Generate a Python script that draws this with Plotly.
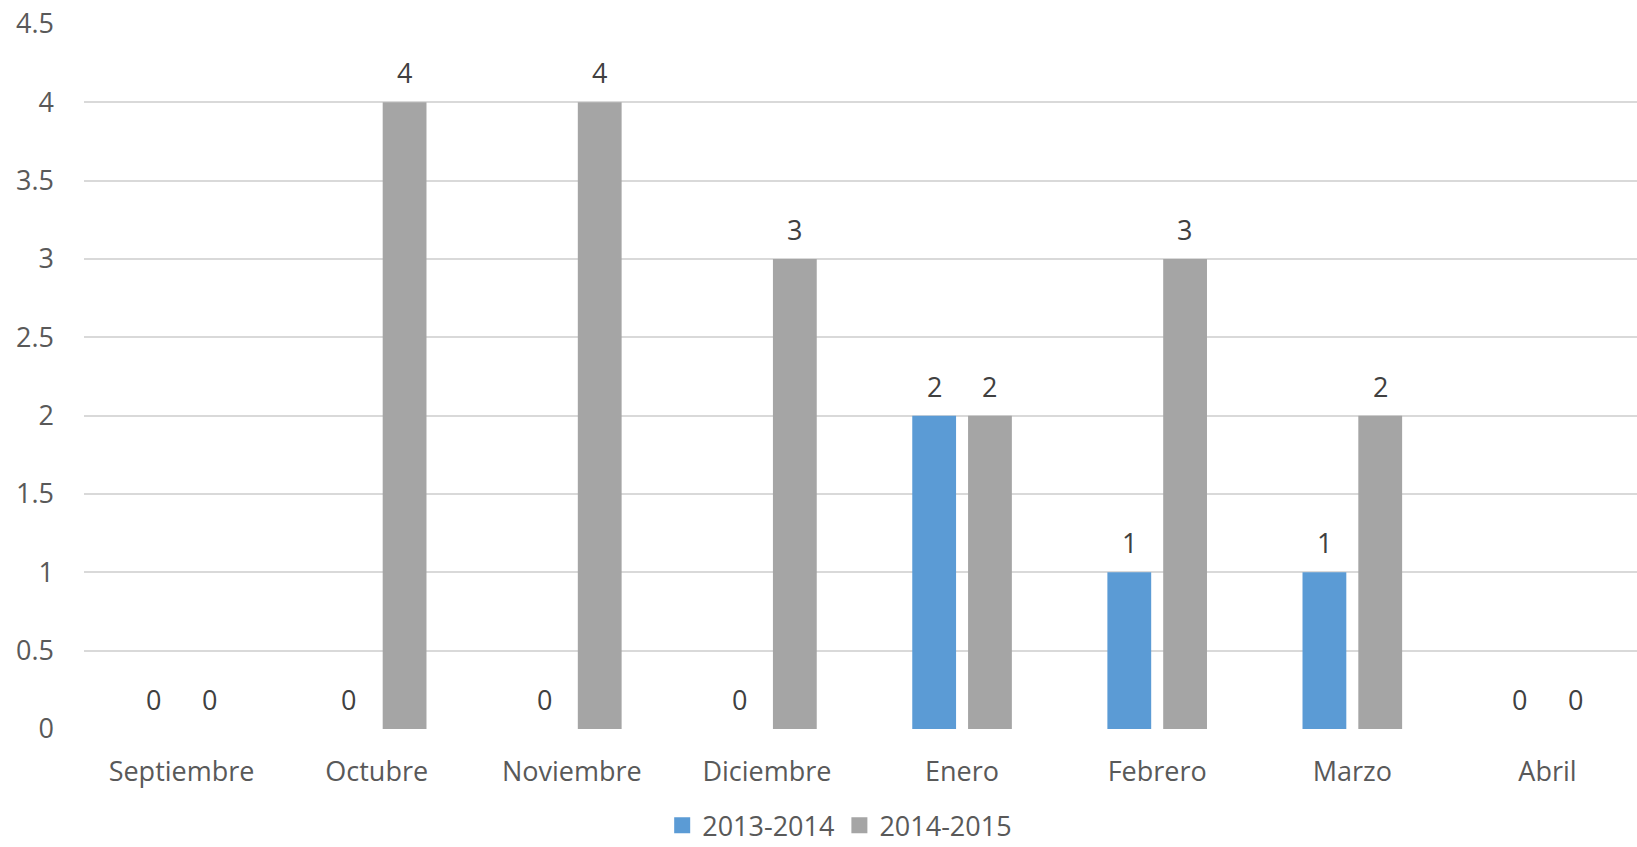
import plotly.graph_objects as go

meses = ["Septiembre", "Octubre", "Noviembre", "Diciembre", "Enero", "Febrero", "Marzo", "Abril"]
serie_2013_2014 = [0, 0, 0, 0, 2, 1, 1, 0]
serie_2014_2015 = [0, 4, 4, 3, 2, 3, 2, 0]
nombres = ["2013-2014", "2014-2015"]
colores = ["#5B9BD5", "#A5A5A5"]

FUENTE = "Open Sans"
W, H = 1637, 847

fig = go.Figure()
for nombre, valores, color in zip(nombres, [serie_2013_2014, serie_2014_2015], colores):
    fig.add_trace(go.Bar(
        x=meses, y=valores, name=nombre,
        marker=dict(color=color, line=dict(width=0)),
        showlegend=False,
    ))
    # legend swatch as a square marker
    fig.add_trace(go.Scatter(
        x=[None], y=[None], mode="markers", name=nombre,
        marker=dict(symbol="square", size=18, color=color),
    ))

# value labels above each bar
desplazamiento = 27.75
for valores, signo in zip([serie_2013_2014, serie_2014_2015], [-1, 1]):
    for mes, v in zip(meses, valores):
        fig.add_annotation(
            x=mes, y=v, text=str(v), showarrow=False,
            xshift=signo * desplazamiento, yshift=9, yanchor="bottom",
            font=dict(family=FUENTE, size=27, color="#404040"),
        )

fig.update_layout(
    width=W, height=H,
    margin=dict(l=84, r=0, t=24, b=118, autoexpand=False),
    paper_bgcolor="white", plot_bgcolor="white",
    barmode="group", bargap=0.428, bargroupgap=0.215,
    font=dict(family=FUENTE, size=27, color="#595959"),
    legend=dict(
        orientation="h", x=0.4866, xanchor="center", y=-0.137, yanchor="middle",
        font=dict(family=FUENTE, size=27, color="#595959"),
        itemwidth=30, tracegroupgap=0,
    ),
)
fig.update_xaxes(
    type="category", range=[-0.5, 7.459], automargin=False,
    showgrid=False, zeroline=False, showline=False,
    ticks="", ticklabelstandoff=24,
    tickfont=dict(family=FUENTE, size=27, color="#595959"),
)
fig.update_yaxes(
    range=[0, 4.5], dtick=0.5, tick0=0, automargin=False,
    showgrid=True, gridcolor="#D9D9D9", gridwidth=1.5,
    zeroline=False, showline=False, ticks="",
    ticklabelstandoff=29,
    tickfont=dict(family=FUENTE, size=27, color="#595959"),
)

fig.write_html("out.html")
